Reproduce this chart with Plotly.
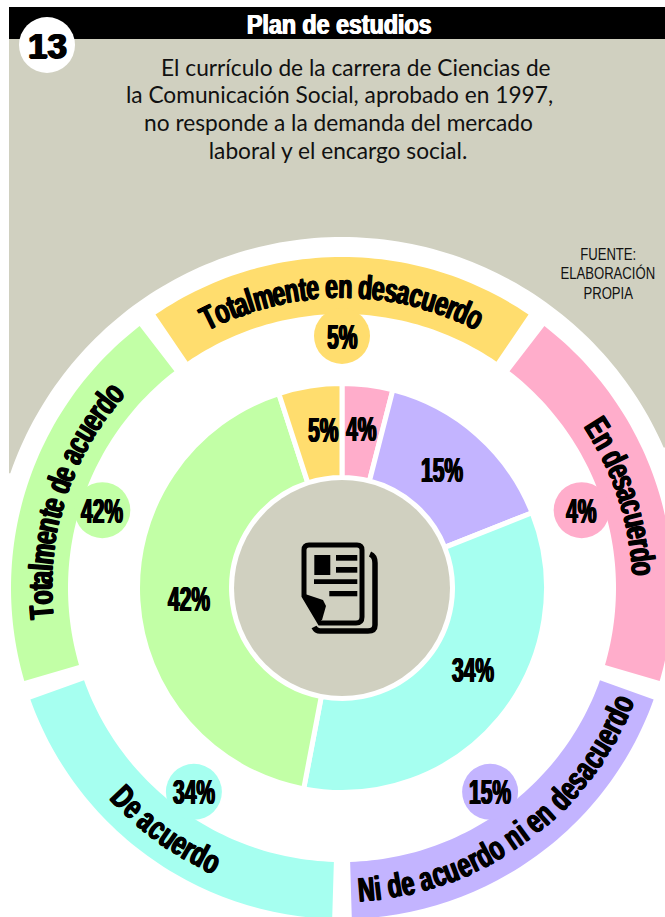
import json
import math
import plotly.graph_objects as go

# Survey data
categories = ["En desacuerdo", "Ni de acuerdo ni en desacuerdo", "De acuerdo",
              "Totalmente de acuerdo", "Totalmente en desacuerdo"]
values = [4, 15, 34, 42, 5]
colors = ["#ffadcb", "#c3b4ff", "#a6fff0", "#c2ffa6", "#ffdd6e"]

title = "Plan de estudios"
badge = "13"
statement = ["El currículo de la carrera de Ciencias de",
             "la Comunicación Social, aprobado en 1997,",
             "no responde a la demanda del mercado",
             "laboral y el encargo social."]
source = ["FUENTE:", "ELABORACIÓN", "PROPIA"]

W, H = 665, 917
CX, CY = 342, 588
GRAY = "#d0d0c0"
HEAVY = "Liberation Sans"
BOLD_SHADOW = "1px 0 0 #000, -1px 0 0 #000, 0 0.3px 0 #000"

# Outer ring geometry
RING_IN, RING_OUT = 274, 331
RING_HALF = 34.3
LABEL_R = 302
BUBBLE_R = 252
PIE_R = 204.5
HOLE_R = 110.5
HALO_R = 351

# Radial position and bearing of each percentage inside the donut
pct_r = [161, 155, 154, 153, 160]
pct_a = [7, 40, 122, 266, 353.5]

# Arial Bold advance widths
ADV = dict(a=556, b=611, c=556, d=611, e=556, f=333, g=611, h=611, i=278, l=278, m=889,
           n=611, o=611, r=389, s=556, t=333, u=611, T=611, E=667, N=722, D=722)
ADV[" "] = 278

# Font size and horizontal squeeze of the condensed display lettering
ARC_SIZE, ARC_SQUEEZE = 34, 0.675
PCT_SIZE, PCT_SQUEEZE = 35, 0.60


def pt(r, a):
    t = math.radians(a)
    return CX + r * math.sin(t), CY - r * math.cos(t)


def arc(r, a0, a1, n=60):
    pts = [pt(r, a0 + (a1 - a0) * k / n) for k in range(n + 1)]
    return [p[0] for p in pts], [p[1] for p in pts]


fig = go.Figure()

# Gray backdrop with the round cut around the rings
hx, hy = arc(HALO_R, -70.9, 66.4, 120)
fig.add_trace(go.Scatter(x=[9, 9] + hx + [665, 665, 9], y=[39, hy[0]] + hy + [hy[-1], 39, 39],
                         fill="toself", fillcolor=GRAY, mode="none", hoverinfo="skip"))

# Outer ring segments, one per answer, evenly spread
centers = [72 * (i + 1) for i in range(len(categories))]
for c, col in zip(centers, colors):
    ox, oy = arc(RING_OUT, c - RING_HALF, c + RING_HALF)
    ix, iy = arc(RING_IN, c + RING_HALF, c - RING_HALF)
    fig.add_trace(go.Scatter(x=ox + ix + ox[:1], y=oy + iy + oy[:1], fill="toself",
                             fillcolor=col, mode="none", hoverinfo="skip"))

# Percentage bubbles sitting on the inner edge of the ring
bub = [pt(BUBBLE_R, c) for c in centers]
fig.add_trace(go.Scatter(x=[b[0] for b in bub], y=[b[1] for b in bub], mode="markers",
                         marker=dict(size=56, color=colors, line=dict(width=0)), hoverinfo="skip"))

# Main donut
fig.add_trace(go.Pie(labels=categories, values=values, sort=False, direction="clockwise",
                     rotation=0, hole=HOLE_R / PIE_R, textinfo="none", hoverinfo="skip",
                     marker=dict(colors=colors, line=dict(color="white", width=5)),
                     domain=dict(x=[(CX - PIE_R) / W, (CX + PIE_R) / W],
                                 y=[1 - (CY + PIE_R) / H, 1 - (CY - PIE_R) / H]),
                     showlegend=False))

ann = []
squeeze = []


def text(x, y, s, size, family=HEAVY, color="#000", angle=0, bold=False, shadow=None, k=1.0):
    font = dict(size=size, family=family, color=color)
    if shadow:
        font["shadow"] = shadow
    ann.append(dict(x=x, y=y, xref="x", yref="y", text=f"<b>{s}</b>" if bold else s,
                    showarrow=False, font=font, textangle=angle,
                    xanchor="center", yanchor="middle"))
    squeeze.append(k)


# Curved labels, set letter by letter
def curved(label, center):
    flip = 90 < (center % 360) < 270
    scale = ARC_SQUEEZE / 1000 * ARC_SIZE
    total = sum(ADV[ch] for ch in label) * scale
    step = 180 / math.pi / LABEL_R
    pos = -total / 2
    for ch in label:
        w = ADV[ch] * scale
        if ch != " ":
            off = (pos + w / 2) * step
            a = center - off if flip else center + off
            x, y = pt(LABEL_R, a)
            text(x, y, ch, ARC_SIZE, angle=a - 180 if flip else a, bold=True,
                 shadow=BOLD_SHADOW, k=ARC_SQUEEZE)
        pos += w


for name, c in zip(categories, centers):
    curved(name, c)

# Percent figures on the bubbles and inside the donut
for v, b, r, a in zip(values, bub, pct_r, pct_a):
    text(b[0], b[1], f"{v}%", PCT_SIZE, bold=True, shadow=BOLD_SHADOW, k=PCT_SQUEEZE)
    x, y = pt(r, a)
    text(x, y, f"{v}%", PCT_SIZE, bold=True, shadow=BOLD_SHADOW, k=PCT_SQUEEZE)

# Header texts
text(339, 24, title, 28, color="#fff", bold=True, shadow="0.7px 0 0 #fff, -0.7px 0 0 #fff", k=0.83)
text(47, 45, badge, 35, bold=True, shadow="1px 0 0 #000, -1px 0 0 #000, 0 0.5px 0 #000")
for s, x, y in zip(statement, [356, 339, 338, 338], [67, 94, 122, 150]):
    text(x, y, s, 22.5, family="Lato", color="#111", k=1.01)
for s, y in zip(source, [254, 273, 293]):
    text(608, y, s, 16, color="#111", k=0.82)

# Title bar, badge, hub and the newspaper icon
ICON = "#000"
shapes = [
    dict(type="rect", x0=9, x1=665, y0=7, y1=39, fillcolor="#000", line_width=0, layer="above"),
    dict(type="circle", x0=19, x1=75, y0=17, y1=73, fillcolor="#fff", line_width=0, layer="above"),
    dict(type="circle", x0=CX - 108, x1=CX + 108, y0=CY - 108, y1=CY + 108,
         fillcolor=GRAY, line_width=0, layer="above"),
    dict(type="path", path="M 309,545 L 357,545 Q 362,545 362,550 L 362,617 Q 362,623 356,623 "
                           "L 320,623 L 304,596 L 304,550 Q 304,545 309,545 Z",
         line=dict(color=ICON, width=5), layer="above"),
    dict(type="path", path="M 305,594 L 323,600 L 326,606 L 322,620 L 317,620 L 303,598 Z",
         fillcolor=ICON, line_width=0, layer="above"),
    dict(type="path", path="M 370,554 Q 375,556 375,563 L 375,625 Q 375,631 368,631 "
                           "L 320,631 Q 316,631 314,627",
         line=dict(color=ICON, width=5.5), layer="above"),
]
for x0, x1, y0, y1 in [(314.3, 330.3, 555, 575), (336, 357.3, 555, 560.7), (336, 357.3, 567, 572.7),
                       (314, 357.3, 579.3, 584), (329.3, 357.3, 591, 596.3)]:
    shapes.append(dict(type="rect", x0=x0, x1=x1, y0=y0, y1=y1, fillcolor=ICON, line_width=0, layer="above"))

fig.update_layout(
    width=W, height=H, margin=dict(l=0, r=0, t=0, b=0, pad=0),
    paper_bgcolor="#fff", plot_bgcolor="#fff", showlegend=False,
    xaxis=dict(range=[0, W], visible=False, fixedrange=True),
    yaxis=dict(range=[H, 0], visible=False, fixedrange=True),
    annotations=ann, shapes=shapes,
)

# Narrow each annotation's lettering about its own centre
condense = """
var squeeze = %s;
var root = document.getElementById('{plot_id}');
root.querySelectorAll('g.annotation').forEach(function (g) {
  var k = squeeze[+g.getAttribute('data-index')];
  if (k === 1) return;
  var t = g.querySelector('text');
  var cx = parseFloat(t.getAttribute('x'));
  t.setAttribute('transform', 'translate(' + cx + ',0) scale(' + k + ',1) translate(' + (-cx) + ',0)');
});
""" % json.dumps(squeeze)

fig.write_html("out.html", config=dict(displayModeBar=False), post_script=condense)
